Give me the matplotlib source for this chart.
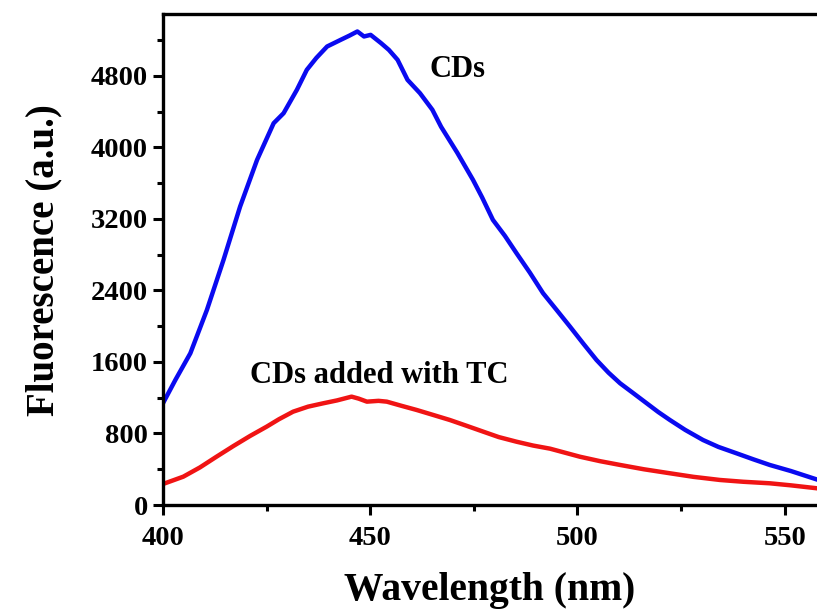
import numpy as np
import matplotlib
matplotlib.use('Agg')
import matplotlib.pyplot as plt
from matplotlib.ticker import MultipleLocator

plt.rcParams['font.family'] = ['Liberation Serif', 'DejaVu Serif']
plt.rcParams['font.weight'] = 'bold'

# CDs (blue)
cds_wl = [400, 403, 406.6, 410.6, 414.6, 418.6, 422.7, 426.7, 429.1, 432.3, 434.7,
          437, 439.6, 442.9, 445, 446.9, 448.5, 450.1, 452.6, 454.5, 456.6, 459,
          462, 465, 467.1, 471, 474.8, 477, 479.6, 482.5, 485.3, 488.5, 491.7,
          495, 498.2, 501.5, 504.6, 507.5, 510.3, 513.5, 516.7, 519.5, 522.3,
          526, 530.3, 534, 538.4, 542.5, 546.4, 551.5, 557.8]
cds_val = [1138, 1400, 1697, 2182, 2741, 3337, 3860, 4270, 4382, 4643, 4867,
           5000, 5128, 5203, 5250, 5296, 5240, 5258, 5166, 5090, 4979, 4755,
           4606, 4420, 4230, 3940, 3636, 3440, 3189, 3010, 2816, 2600, 2369,
           2180, 1995, 1800, 1622, 1480, 1361, 1250, 1138, 1040, 951,
           840, 727, 650, 578, 510, 448, 380, 285]

# CDs added with TC (red)
tc_wl = [400, 404.9, 408.9, 412.9, 417, 421, 425, 428, 431.4, 435, 438.7,
         442, 445.5, 447.2, 449.2, 452, 454, 457.5, 461.2, 465, 469.2, 473,
         477.3, 481, 485.3, 489.3, 493.4, 497, 500.6, 505.5, 510.3, 516,
         522.3, 528, 534.4, 540, 546.4, 551.5, 557.8]
tc_val = [235, 317, 420, 540, 660, 772, 876, 960, 1044, 1100, 1138,
          1170, 1212, 1190, 1156, 1165, 1156, 1110, 1063, 1010, 951, 890,
          820, 760, 708, 665, 630, 585, 540, 490, 448, 400,
          355, 315, 280, 260, 243, 220, 187]

fig = plt.figure(figsize=(8.17, 6.14), dpi=100)
ax = fig.add_axes([0.1995, 0.1775, 0.8005, 0.7995])

ax.plot(cds_wl, cds_val, color='#0a0af0', lw=3.2)
ax.plot(tc_wl, tc_val, color='#f01414', lw=3.2)

ax.set_xlim(400, 557.8)
ax.set_ylim(0, 5490)

ax.xaxis.set_major_locator(MultipleLocator(50))
ax.xaxis.set_minor_locator(MultipleLocator(25))
ax.yaxis.set_major_locator(MultipleLocator(800))
ax.yaxis.set_minor_locator(MultipleLocator(400))

for s in ['left', 'bottom', 'top']:
    ax.spines[s].set_linewidth(2.4)
ax.spines['right'].set_visible(False)

ax.tick_params(axis='both', which='major', direction='out', length=7, width=2.2,
               labelsize=20.5)
ax.tick_params(axis='x', which='major', pad=8)
ax.tick_params(axis='y', which='major', pad=4)
ax.tick_params(axis='both', which='minor', direction='out', length=4, width=2.2)
ax.tick_params(top=False, right=False, which='both')
for lab in ax.get_xticklabels() + ax.get_yticklabels():
    lab.set_fontweight('bold')

ax.set_xlabel('Wavelength (nm)', fontsize=28.5, fontweight='bold', labelpad=15)
ax.set_ylabel('Fluorescence (a.u.)', fontsize=28, fontweight='bold', labelpad=20)

ax.text(471.1, 4867, 'CDs', fontsize=22, fontweight='bold', ha='center', va='center')
ax.text(452.1, 1443, 'CDs added with TC', fontsize=22, fontweight='bold',
        ha='center', va='center')

fig.savefig('out.png', dpi=100)
